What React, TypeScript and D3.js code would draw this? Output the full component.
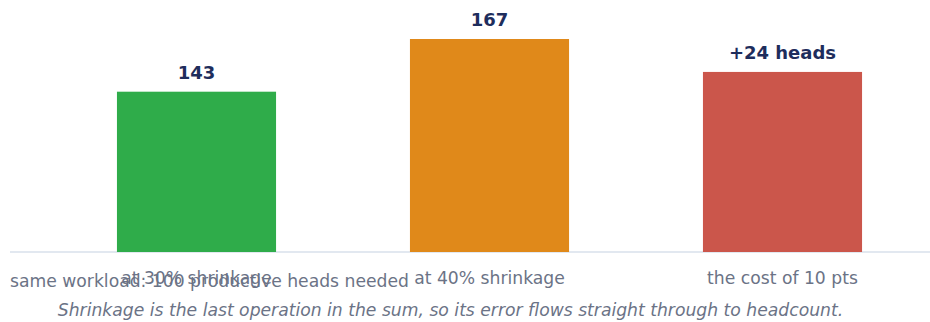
import React from 'react';
import { scaleBand, scaleLinear } from 'd3';

const width = 930;
const height = 322;

// categories, values and the labels printed over the bars
const categories = ['at 30% shrinkage', 'at 40% shrinkage', 'the cost of 10 pts'];
const values = [143, 167, 152];
const valueLabels = ['143', '167', '+24 heads'];
const colors = ['#2fac4a', '#e0891a', '#cb564b'];

const subtitle = 'same workload: 100 productive heads needed';
const footnote =
  'Shrinkage is the last operation in the sum, so its error flows straight through to headcount.';

const baseY = 252;

const App = () => {
  const xScale = scaleBand<string>()
    .domain(categories)
    .range([50, 929])
    .paddingInner(0.457)
    .paddingOuter(0.2285);

  const yScale = scaleLinear().domain([70, 167]).range([baseY, 39]);

  return (
    <svg
      width={width}
      height={height}
      style={{ position: 'absolute', left: 0, top: 0, fontFamily: 'DejaVu Sans, sans-serif' }}
    >
      <line x1={10} x2={930} y1={baseY} y2={baseY} stroke="#e2e8f0" strokeWidth={2} />
      {categories.map((c, i) => (
        <g key={c}>
          <rect
            x={xScale(c)}
            y={yScale(values[i])}
            width={xScale.bandwidth()}
            height={baseY - yScale(values[i])}
            fill={colors[i]}
          />
          <text
            x={(xScale(c) as number) + xScale.bandwidth() / 2}
            y={yScale(values[i]) - 13}
            textAnchor="middle"
            fontSize={18}
            fontWeight="bold"
            fill="#1e2d5c"
          >
            {valueLabels[i]}
          </text>
          <text
            x={(xScale(c) as number) + xScale.bandwidth() / 2}
            y={284}
            textAnchor="middle"
            fontSize={17.2}
            fill="#6b7386"
          >
            {c}
          </text>
        </g>
      ))}
      <text x={10} y={287} fontSize={17.2} fill="#6b7386">
        {subtitle}
      </text>
      <text x={450.5} y={316} textAnchor="middle" fontSize={17.2} fontStyle="italic" fill="#6b7386">
        {footnote}
      </text>
    </svg>
  );
};

export default App;
